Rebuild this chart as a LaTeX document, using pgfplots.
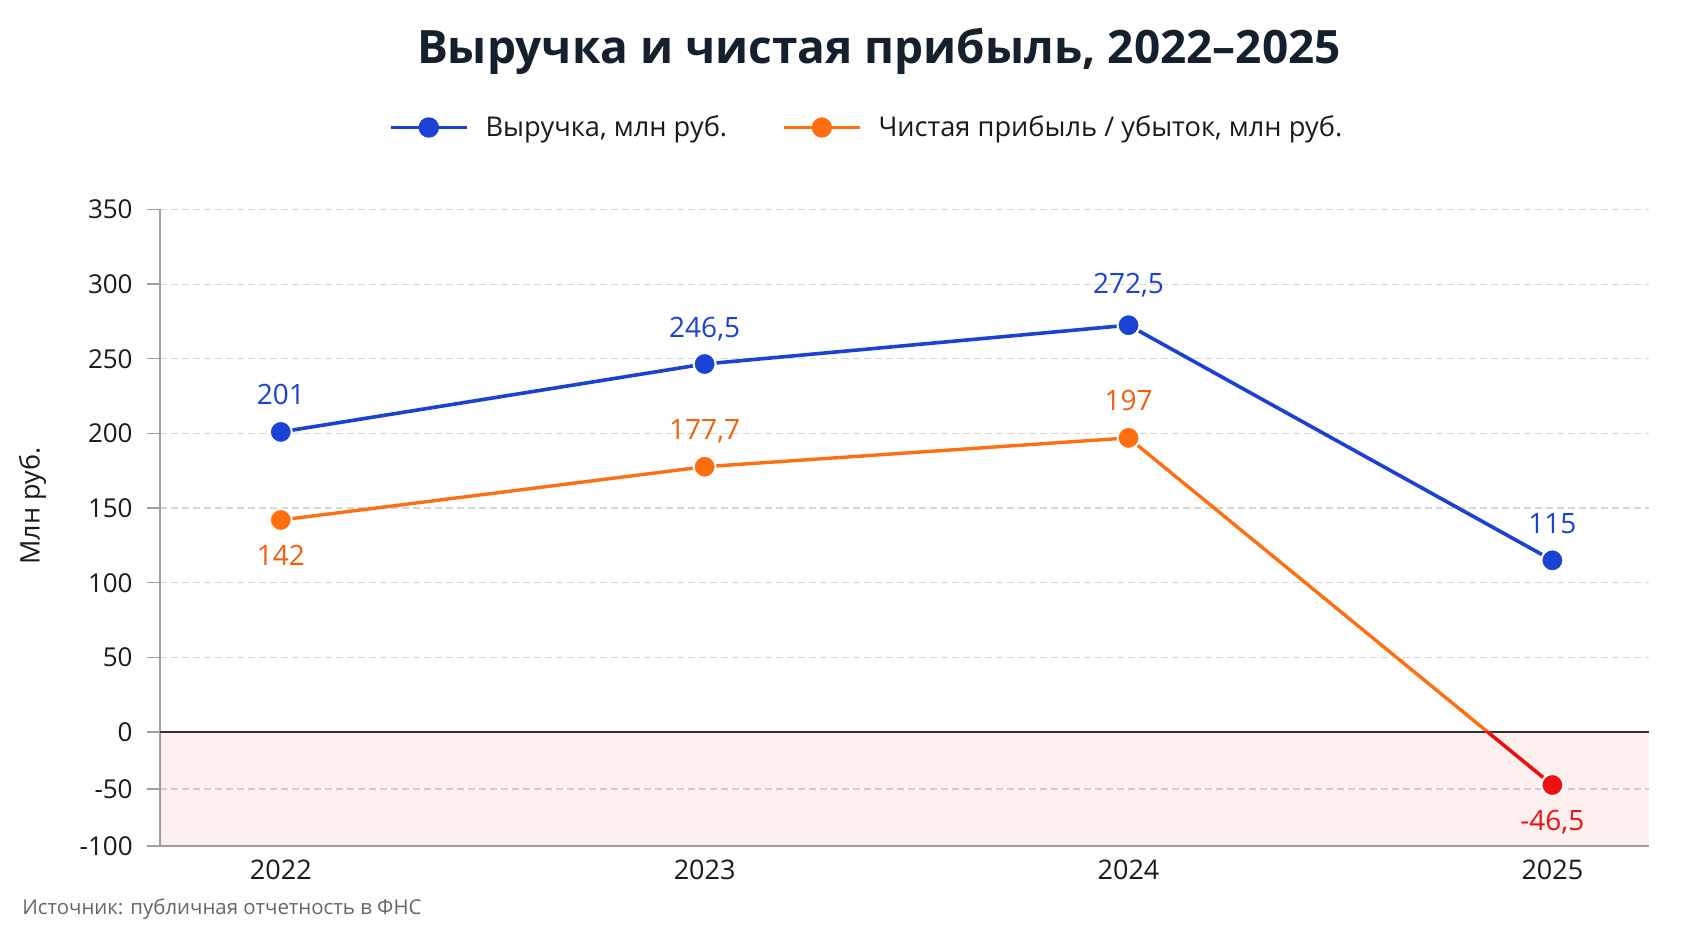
\documentclass[border=0pt]{standalone}
\usepackage{pgfplots}
\pgfplotsset{compat=1.18}
\usepackage{fontspec}
\setmainfont{Open Sans}
\definecolor{cblue}{HTML}{1A42D4}
\definecolor{corange}{HTML}{FF6F0F}
\definecolor{clabor}{HTML}{F55E0A}
\definecolor{cred}{HTML}{EE1111}
\definecolor{cgrid}{HTML}{D6D6D6}
\definecolor{caxis}{HTML}{A0A0A0}
\definecolor{ctext}{HTML}{1A1A1A}
\definecolor{ctitle}{HTML}{14202E}
\begin{document}
\begin{tikzpicture}
\path[use as bounding box] (0,0) rectangle (846.5pt,464.5pt);
\node[anchor=base, font=\fontsize{23}{27}\selectfont\bfseries, text=ctitle, inner sep=0pt] at (439.5pt,432.85pt) {Выручка и чистая прибыль, 2022–2025};
\node[anchor=west, font=\fontsize{10.2}{12}\selectfont, text=black!60, inner sep=0pt] at (11pt,10pt) {Источник: публичная отчетность в ФНС};
\node[rotate=90, font=\fontsize{13.5}{16}\selectfont, text=ctext, inner sep=0pt] at (16.2pt,211.5pt) {Млн руб.};
\begin{axis}[
  at={(80pt,41.5pt)}, anchor=south west,
  scale only axis, width=744.5pt, height=318.25pt,
  xmin=-0.285, xmax=3.228, ymin=-100, ymax=350,
  y coord trafo/.code={\pgfmathparse{(#1)<0 ? 0.7636*(#1) : (#1)}},
  xtick={0,1,2,3}, xticklabels={2022,2023,2024,2025},
  ytick={-100,-50,0,50,100,150,200,250,300,350},
  yticklabels={-100,-50,0,50,100,150,200,250,300,350},
  axis x line*=bottom, axis y line*=left,
  axis line style={caxis, line width=0.7pt},
  xtick style={draw=none},
  ytick style={caxis, line width=0.7pt},
  tick align=outside, major tick length=6.5pt,
  ymajorgrids, grid style={cgrid, dash pattern=on 3.5pt off 2pt, line width=0.6pt},
  /pgf/number format/assume math mode=true,
  tick label style={font=\fontsize{13}{15}\selectfont, text=ctext, inner sep=0pt},
  yticklabel style={xshift=-7pt},
  xticklabel style={yshift=-0.5pt, font=\fontsize{13.5}{15}\selectfont},
  legend style={at={(0.1538,1.1288)}, anchor=west, draw=none, fill=none, inner sep=0pt, outer sep=0pt,
    legend columns=2, font=\fontsize{13.6}{16}\selectfont, text=ctext, nodes={inner sep=0pt},
    /tikz/every odd column/.append style={column sep=8.5pt},
    /tikz/every even column/.append style={column sep=27.5pt}},
  legend cell align=left,
  legend image code/.code={%
    \draw[#1, mark=none] (0pt,0pt) -- (38pt,0pt);
    \draw[#1, mark size=4.2pt, mark options={draw=none}] plot coordinates {(19pt,0pt)};},
]
\fill[red, fill opacity=0.06] (rel axis cs:0,0) rectangle (rel axis cs:1,0.1791);
\draw[black!80, line width=1pt] (rel axis cs:0,0.1791) -- (rel axis cs:1,0.1791);

\addplot[cblue, line width=1.8pt, mark=*, mark size=5.5pt, mark options={fill=cblue, draw=white, line width=1pt}]
  coordinates {(0,201) (1,246.5) (2,272.5) (3,115)};
\addlegendentry{Выручка, млн руб.}
\addplot[corange, line width=1.7pt, mark=*, mark size=5.5pt, mark indices={1,2,3}, mark options={fill=corange, draw=white, line width=1pt}]
  coordinates {(0,142) (1,177.7) (2,197) (3,-46.5)};
\addlegendentry{Чистая прибыль / убыток, млн руб.}

\begin{scope}
\clip (rel axis cs:0,0) rectangle (rel axis cs:1,0.1791);
\addplot[forget plot, cred, line width=1.7pt] coordinates {(2,197) (3,-46.5)};
\end{scope}
\addplot[forget plot, only marks, mark=*, mark size=5.5pt, mark options={fill=cred, draw=white, line width=1pt}]
  coordinates {(3,-46.5)};

% value labels
\addplot[forget plot, draw=none, nodes near coords, point meta=explicit,
  every node near coord/.append style={anchor=base, inner sep=0pt, yshift=13.5pt, text=cblue, font=\fontsize{14}{16}\selectfont,
    /pgf/number format/.cd, use comma, fixed, precision=1}]
  coordinates {(0,201)[201] (1,246.5)[246.5] (3,115)[115]};
\addplot[forget plot, draw=none, nodes near coords, point meta=explicit,
  every node near coord/.append style={anchor=base, inner sep=0pt, yshift=16pt, text=cblue, font=\fontsize{14}{16}\selectfont,
    /pgf/number format/.cd, use comma, fixed, precision=1}]
  coordinates {(2,272.5)[272.5]};
\addplot[forget plot, draw=none, nodes near coords, point meta=explicit,
  every node near coord/.append style={anchor=base, inner sep=0pt, yshift=13.5pt, text=clabor, font=\fontsize{14}{16}\selectfont,
    /pgf/number format/.cd, use comma, fixed, precision=1}]
  coordinates {(1,177.7)[177.7] (2,197)[197]};
\addplot[forget plot, draw=none, nodes near coords, point meta=explicit,
  every node near coord/.append style={anchor=north, inner sep=0pt, yshift=-12.5pt, text=clabor, font=\fontsize{14}{16}\selectfont,
    /pgf/number format/.cd, use comma, fixed, precision=1}]
  coordinates {(0,142)[142]};
\addplot[forget plot, draw=none, nodes near coords, point meta=explicit,
  every node near coord/.append style={anchor=north, inner sep=0pt, yshift=-12.5pt, text=cred, font=\fontsize{14}{16}\selectfont,
    /pgf/number format/.cd, use comma, fixed, precision=1}]
  coordinates {(3,-46.5)[-46.5]};
\end{axis}
\end{tikzpicture}
\end{document}
